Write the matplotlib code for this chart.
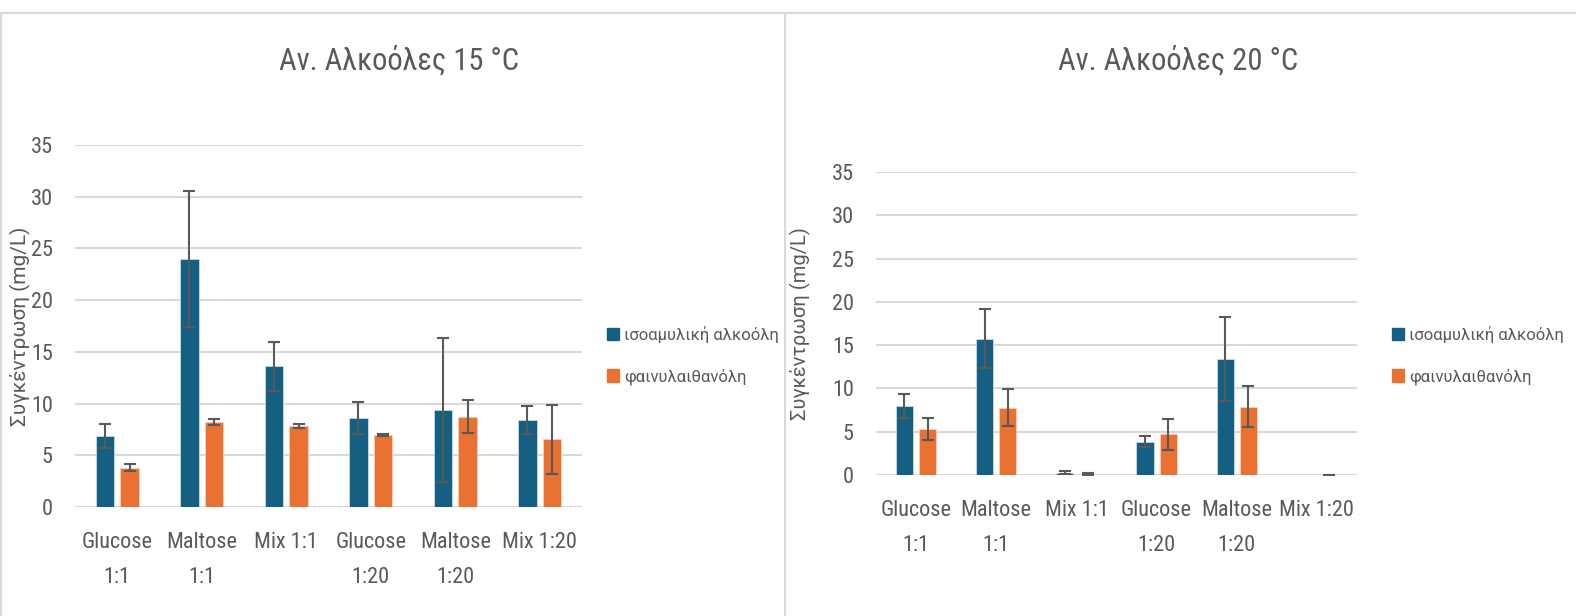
import matplotlib.pyplot as plt
import matplotlib.font_manager as fm
from matplotlib.lines import Line2D
import numpy as np

# sample labels and series
categories = ["Glucose\n1:1", "Maltose\n1:1", "Mix 1:1", "Glucose\n1:20", "Maltose\n1:20", "Mix 1:20"]
series_names = ["ισοαμυλική αλκοόλη", "φαινυλαιθανόλη"]

# 15 °C
iso_15 = [6.9, 24.0, 13.6, 8.6, 9.4, 8.4]
iso_15_err = [1.15, 6.6, 2.35, 1.55, 6.95, 1.35]
phe_15 = [3.8, 8.2, 7.85, 6.95, 8.75, 6.55]
phe_15_err = [0.32, 0.27, 0.2, 0.13, 1.64, 3.33]

# 20 °C (no isoamyl value for Mix 1:20)
iso_20 = [8.0, 15.75, 0.27, 3.85, 13.4, np.nan]
iso_20_err = [1.37, 3.44, 0.15, 0.6, 4.83, np.nan]
phe_20 = [5.35, 7.75, 0.11, 4.7, 7.9, 0.03]
phe_20_err = [1.26, 2.14, 0.1, 1.8, 2.35, 0.0]

BLUE = "#156082"
ORANGE = "#E97132"
GREY = "#595959"
GRID = "#D9D9D9"


def find_narrow():
    # look for a condensed/narrow regular face among the installed fonts
    prefer = ["Liberation Sans Narrow", "Roboto Condensed", "Open Sans Condensed",
              "Noto Sans Condensed", "DejaVu Sans", "Noto Sans", "Open Sans", "Roboto"]
    found = []
    for f in fm.fontManager.ttflist:
        narrow = (str(f.stretch) in ("condensed", "semi-condensed", "extra-condensed")
                  or "Narrow" in f.name or "Condensed" in f.name
                  or "Condensed" in f.fname or "Narrow" in f.fname)
        if not narrow or f.style != "normal":
            continue
        if f.weight not in (400, "normal", "regular"):
            continue
        if "Bold" in f.fname or "Italic" in f.fname or "Light" in f.fname:
            continue
        found.append(f)
    for name in prefer:
        for f in found:
            if f.name == name:
                return fm.FontProperties(fname=f.fname)
    if found:
        return fm.FontProperties(fname=found[0].fname)
    return None


narrow_fp = find_narrow()
if narrow_fp is None:
    narrow_fp = fm.FontProperties(family="Roboto")
REG = "Roboto"


def nfp(size):
    fp = narrow_fp.copy()
    fp.set_size(size)
    return fp


fig = plt.figure(figsize=(15.76, 6.16), dpi=100)

# chart frames
fig.add_artist(Line2D([0, 1], [1 - 13 / 616, 1 - 13 / 616], color=GRID, lw=1.5))
fig.add_artist(Line2D([1 / 1576, 1 / 1576], [0, 1 - 13 / 616], color=GRID, lw=1.5))
fig.add_artist(Line2D([785 / 1576, 785 / 1576], [0, 1 - 13 / 616], color=GRID, lw=1.5))


def draw_panel(rect, title, title_xy, ylab_x, ylab_size, legend_xy, a, a_err, b, b_err):
    ax = fig.add_axes(rect)
    x = np.arange(len(categories))
    w = 0.215
    off = 0.145
    ax.bar(x - off, a, w, color=BLUE, edgecolor="#c9dbe5", linewidth=0.6, zorder=3)
    ax.bar(x + off, b, w, color=ORANGE, edgecolor="#f6d0bb", linewidth=0.6, zorder=3)
    ax.errorbar(x - off, a, yerr=a_err, fmt="none", ecolor=GREY, elinewidth=1.5,
                capsize=4, capthick=1.5, zorder=4)
    ax.errorbar(x + off, b, yerr=b_err, fmt="none", ecolor=GREY, elinewidth=1.5,
                capsize=4, capthick=1.5, zorder=4)

    ax.set_ylim(0, 35)
    ax.set_xlim(-0.5, len(categories) - 0.5)
    ax.set_yticks(range(0, 36, 5))
    ax.grid(axis="y", color=GRID, lw=1.5, zorder=0)
    ax.set_axisbelow(True)
    for s in ax.spines.values():
        s.set_visible(False)
    ax.tick_params(length=0, labelcolor=GREY)
    ax.tick_params(axis="x", pad=18)
    ax.tick_params(axis="y", pad=16)
    ax.set_xticks(x)
    ax.set_xticklabels(categories, linespacing=1.85, va="top")
    for lab in ax.get_xticklabels() + ax.get_yticklabels():
        lab.set_fontproperties(nfp(16))

    fig.text(title_xy[0] / 1576, 1 - title_xy[1] / 616, title, ha="center", va="center",
             color=GREY, fontproperties=nfp(22))
    fig.text(ylab_x / 1576, rect[1] + rect[3] * 0.5, "Συγκέντρωση (mg/L)", rotation=90,
             ha="center", va="center", fontsize=ylab_size, color=GREY, family=REG)

    handles = [plt.Rectangle((0, 0), 1, 1, color=BLUE), plt.Rectangle((0, 0), 1, 1, color=ORANGE)]
    fig.legend(handles, series_names, loc="upper left",
               bbox_to_anchor=(legend_xy[0] / 1576, 1 - legend_xy[1] / 616),
               frameon=False, prop={"family": REG, "size": 12}, labelcolor=GREY,
               handlelength=0.75, handleheight=0.75, handletextpad=0.3,
               labelspacing=1.55, borderaxespad=0)
    return ax


draw_panel([75 / 1576, 1 - 507 / 616, 507 / 1576, 362 / 616],
           "Αν. Αλκοόλες 15 °C", (399, 60), 20, 15, (600, 319),
           iso_15, iso_15_err, phe_15, phe_15_err)
draw_panel([876 / 1576, 1 - 475 / 616, 481 / 1576, 303 / 616],
           "Αν. Αλκοόλες 20 °C", (1178, 60), 800, 14.5, (1385, 319),
           iso_20, iso_20_err, phe_20, phe_20_err)

fig.savefig("out.png", dpi=100, facecolor="white")
